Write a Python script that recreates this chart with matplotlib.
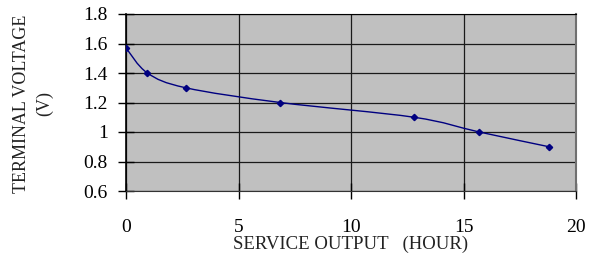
import matplotlib
matplotlib.use("Agg")
import matplotlib.pyplot as plt
import numpy as np
from matplotlib.path import Path
from matplotlib.patches import PathPatch

# discharge curve values
hours = [0, 0.95, 2.65, 6.85, 12.8, 15.7, 18.8]
volts = [1.57, 1.40, 1.30, 1.20, 1.10, 1.00, 0.90]

x_ticks = [0, 5, 10, 15, 20]
y_ticks = [0.6, 0.8, 1.0, 1.2, 1.4, 1.6, 1.8]
y_labels = ["0.6", "0.8", "1", "1.2", "1.4", "1.6", "1.8"]

plt.rcParams['font.family'] = ['Liberation Serif', 'DejaVu Serif']

fig = plt.figure(figsize=(6.0, 2.57), dpi=100)
ax = fig.add_axes([126/600, 1 - 191/257, 450/600, 177/257])
ax.set_facecolor("#C0C0C0")
ax.set_xlim(0, 20)
ax.set_ylim(0.6, 1.8)

# smoothed line like a spreadsheet chart (cubic bezier through the points)
pts = np.column_stack([hours, volts])
verts = [pts[0]]
codes = [Path.MOVETO]
n = len(pts)
for i in range(n - 1):
    p0 = pts[i - 1] if i > 0 else pts[i]
    p1 = pts[i]
    p2 = pts[i + 1]
    p3 = pts[i + 2] if i + 2 < n else pts[i + 1]
    c1 = p1 + (p2 - p0) / 6.0
    c2 = p2 - (p3 - p1) / 6.0
    verts += [c1, c2, p2]
    codes += [Path.CURVE4] * 3
curve = PathPatch(Path(verts, codes), facecolor="none", edgecolor="#000080",
                  lw=1.0, zorder=3)
ax.add_patch(curve)
ax.plot(hours, volts, ls="none", marker="D", ms=3.2, color="#000080", zorder=4)

ax.set_xticks(x_ticks)
ax.set_yticks(y_ticks)
ax.set_yticklabels(y_labels)
ax.grid(True, color="#1a1a1a", lw=0.9)
ax.set_axisbelow(True)
ax.tick_params(axis="both", direction="inout", length=12, width=1.0,
               labelsize=14, colors="black")
ax.tick_params(axis="x", pad=14)
ax.tick_params(axis="y", pad=7)

ax.spines["right"].set_color("#707070")
ax.spines["right"].set_linewidth(1.5)
ax.spines["top"].set_color("black")
ax.spines["left"].set_color("black")
ax.spines["left"].set_linewidth(1.2)
ax.spines["bottom"].set_color("#333333")

fig.text(351/600, 1 - 244/257, "SERVICE OUTPUT   (HOUR)", fontsize=13.5,
         ha="center", va="center", color="#222222")
fig.text(33/600, 1 - 104/257, "TERMINAL VOLTAGE\n(V)", fontsize=13,
         rotation=90, ha="center", va="center", multialignment="center",
         color="#222222", linespacing=1.5)

fig.savefig("out.png", dpi=100)
